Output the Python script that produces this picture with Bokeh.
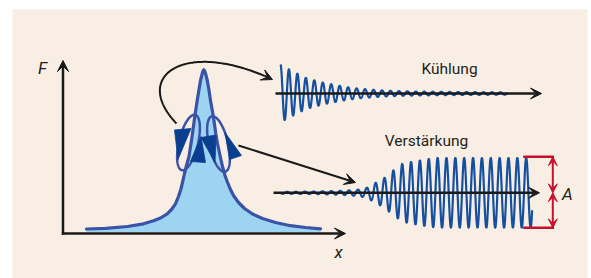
import numpy as np
from bokeh.plotting import figure
from bokeh.models import Range1d, Arrow, VeeHead
from bokeh.core.properties import value
from bokeh.embed import file_html
from bokeh.resources import INLINE

# ---------------- data (page pixel units) ----------------
# resonance curve F(x): left flank -> peak -> right flank
peak_x = [86, 105, 127, 143, 153, 160, 166.7, 171, 175, 178, 180.3, 182, 184, 186, 188.5,
          191.7, 194, 196.7, 198.5, 200, 201.5, 202.5, 203.3,
          204.2, 205.3, 206.8, 208.2, 210, 213, 215.3, 217, 219.5, 222, 224.5, 226.7,
          229.5, 233, 238, 244, 252, 262, 275, 290, 305, 320]
peak_F = [228.5, 227.8, 226, 223.3, 220.3, 217.5, 213.3, 209, 203.3, 196, 189, 182, 173, 165, 156,
          135, 118, 100, 89, 80, 74, 70.5, 69.3,
          70.5, 74, 80, 88, 100, 117, 133, 143, 155, 166, 175, 181,
          188, 195, 202, 208, 213.5, 218, 222, 225.2, 227, 228.3]
fill_base = 231.5

# damped oscillation ("Kühlung"): amplitude of each successive cycle
kuehl_amp = [29, 24.3, 20, 15.7, 13.3, 11, 9.3, 7.7, 6.2, 5.1, 4.4, 3.7, 3.1, 2.7,
             2.4, 2.2, 2.0, 1.9, 1.8, 1.7, 1.6, 1.5, 1.5, 1.4, 1.3, 1.3, 1.2, 1.2]
kuehl_x0, kuehl_T, kuehl_yc, kuehl_xend = 280.0, 8.46, 93.0, 507.0

# growing oscillation ("Verstärkung"): amplitude of each successive cycle
verst_amp = [1.0, 1.0, 1.1, 1.2, 1.3, 1.5, 1.7, 2.0, 2.5, 3.2, 5, 10, 15, 22.5, 29, 31, 32.5, 34,
             35, 35, 35, 35, 35, 35, 35, 35, 35, 35, 35]
verst_x0, verst_T, verst_yc, verst_xstart, verst_xend = 277.7, 8.857, 192.3, 280.0, 531.6

# loops around the peak: centre x, centre y, semi-major, semi-minor, tilt (deg, + = top leans right)
loop_cx = [188.0, 218.0]
loop_cy = [142.0, 143.5]
loop_a = [28.5, 28.5]
loop_b = [9.5, 9.5]
loop_tilt = [13.5, -13.5]

# direction triangles on the loops
tri_xs = [[174, 190.5, 177.5], [200.5, 190, 205], [200.5, 215.5, 214.5], [224.5, 241, 229]]
tri_ys = [[129.5, 128, 159], [136, 161, 162], [137, 134.5, 162], [132, 155, 159]]

labels = ["F", "x", "A", "Kühlung", "Verstärkung"]
label_x = [42, 338, 567, 449, 426]
label_y = [67, 251, 193, 68, 140]

# ---------------- colours ----------------
BEIGE = "#F9EEE3"
FILL = "#9DD4F1"
CURVE = "#3A53A6"
WAVE = "#1550A0"
TRI = "#0A3E8E"
BLACK = "#1A1A1A"
RED = "#C8102E"
TEXT = "#231F20"

W, H = 591, 278
p = figure(width=W, height=H, x_range=Range1d(0, W), y_range=Range1d(H, 0),
           output_backend="svg", toolbar_location=None, min_border=0,
           x_axis_location=None, y_axis_location=None)
p.grid.visible = False
p.outline_line_color = None
p.background_fill_color = "white"
p.border_fill_color = "white"

# panel
p.quad(left=12, right=587, top=9, bottom=279, fill_color=BEIGE, line_color=None)

# filled resonance
px = np.array(peak_x, dtype=float)
pF = np.array(peak_F, dtype=float)
p.varea(x=px, y1=pF, y2=np.full_like(px, fill_base), fill_color=FILL)

# axes of the resonance plot
p.add_layout(Arrow(end=VeeHead(size=11, fill_color=BLACK, line_color=BLACK, line_width=1),
                   x_start=62.5, y_start=234.2, x_end=62.5, y_end=60,
                   line_color=BLACK, line_width=2.5))
p.add_layout(Arrow(end=VeeHead(size=11, fill_color=BLACK, line_color=BLACK, line_width=1),
                   x_start=61.3, y_start=233, x_end=345, y_end=233,
                   line_color=BLACK, line_width=2.5))

p.line(px, pF, line_color=CURVE, line_width=3.2, line_cap="round", line_join="round")

# loops
for cx, cy, a, b, tilt in zip(loop_cx, loop_cy, loop_a, loop_b, loop_tilt):
    th = np.radians(tilt)
    t = np.linspace(0, 2 * np.pi, 200)
    ux, uy = np.sin(th), -np.cos(th)
    vx, vy = np.cos(th), np.sin(th)
    ex = cx + a * np.cos(t) * ux + b * np.sin(t) * vx
    ey = cy + a * np.cos(t) * uy + b * np.sin(t) * vy
    p.line(ex, ey, line_color=CURVE, line_width=2.5)

p.patches(tri_xs, tri_ys, fill_color=TRI, line_color=TRI, line_width=0.8)

# curved arrow to the damped trace
P0, P1, P2, P3 = (176, 123), (130, 75), (185, 38), (272, 79)
tt = np.linspace(0, 0.97, 120)
bx = (1 - tt) ** 3 * P0[0] + 3 * (1 - tt) ** 2 * tt * P1[0] + 3 * (1 - tt) * tt ** 2 * P2[0] + tt ** 3 * P3[0]
by = (1 - tt) ** 3 * P0[1] + 3 * (1 - tt) ** 2 * tt * P1[1] + 3 * (1 - tt) * tt ** 2 * P2[1] + tt ** 3 * P3[1]
p.line(bx, by, line_color=BLACK, line_width=2)
p.add_layout(Arrow(end=VeeHead(size=11, fill_color=BLACK, line_color=BLACK, line_width=1),
                   x_start=bx[-1], y_start=by[-1], x_end=P3[0], y_end=P3[1],
                   line_color=BLACK, line_width=2))

# straight arrow to the growing trace
p.add_layout(Arrow(end=VeeHead(size=11, fill_color=BLACK, line_color=BLACK, line_width=1),
                   x_start=238, y_start=145, x_end=355, y_end=182,
                   line_color=BLACK, line_width=2))

# damped oscillation
kx = np.linspace(kuehl_x0, kuehl_xend, 1400)
kpk = kuehl_x0 + kuehl_T * np.arange(len(kuehl_amp))
kenv = np.interp(kx, kpk, kuehl_amp)
ky = kuehl_yc - kenv * np.cos(2 * np.pi * (kx - kuehl_x0) / kuehl_T)
p.line(kx, ky, line_color=WAVE, line_width=2.2)

# growing oscillation
vx_ = np.linspace(verst_xstart, verst_xend, 1600)
vpk = verst_x0 + verst_T * np.arange(len(verst_amp))
venv = np.interp(vx_, vpk, verst_amp)
vy_ = verst_yc - venv * np.cos(2 * np.pi * (vx_ - verst_x0) / verst_T)
p.line(vx_, vy_, line_color=WAVE, line_width=2.2)

# time axes on top of the traces
p.add_layout(Arrow(end=VeeHead(size=11, fill_color=BLACK, line_color=BLACK, line_width=1),
                   x_start=275, y_start=kuehl_yc, x_end=541, y_end=kuehl_yc,
                   line_color=BLACK, line_width=2.5))
p.add_layout(Arrow(end=VeeHead(size=11, fill_color=BLACK, line_color=BLACK, line_width=1),
                   x_start=273, y_start=verst_yc, x_end=539, y_end=verst_yc,
                   line_color=BLACK, line_width=2.5))

# amplitude bracket
top_y, bot_y = verst_yc - verst_amp[-1] - 1, verst_yc + verst_amp[-1]
p.segment(x0=[522.7, 522.7], y0=[top_y, bot_y], x1=[553.5, 553.5], y1=[top_y, bot_y],
          line_color=RED, line_width=2.5)
for ys, ye in [(verst_yc, top_y), (verst_yc, bot_y)]:
    p.add_layout(Arrow(start=VeeHead(size=9, fill_color=RED, line_color=RED, line_width=1),
                       end=VeeHead(size=9, fill_color=RED, line_color=RED, line_width=1),
                       x_start=552.3, y_start=ys, x_end=552.3, y_end=ye,
                       line_color=RED, line_width=2))

# texts
FONT = value("Roboto")
p.text(x=label_x[:3], y=label_y[:3], text=labels[:3], text_font=FONT, text_font_size="17px",
       text_font_style="italic", text_align="center", text_baseline="middle", text_color=TEXT)
p.text(x=label_x[3:], y=label_y[3:], text=labels[3:], text_font=FONT, text_font_size="15.5px",
       text_align="center", text_baseline="middle", text_color=TEXT)

open("out.html", "w").write(file_html(p, INLINE))
